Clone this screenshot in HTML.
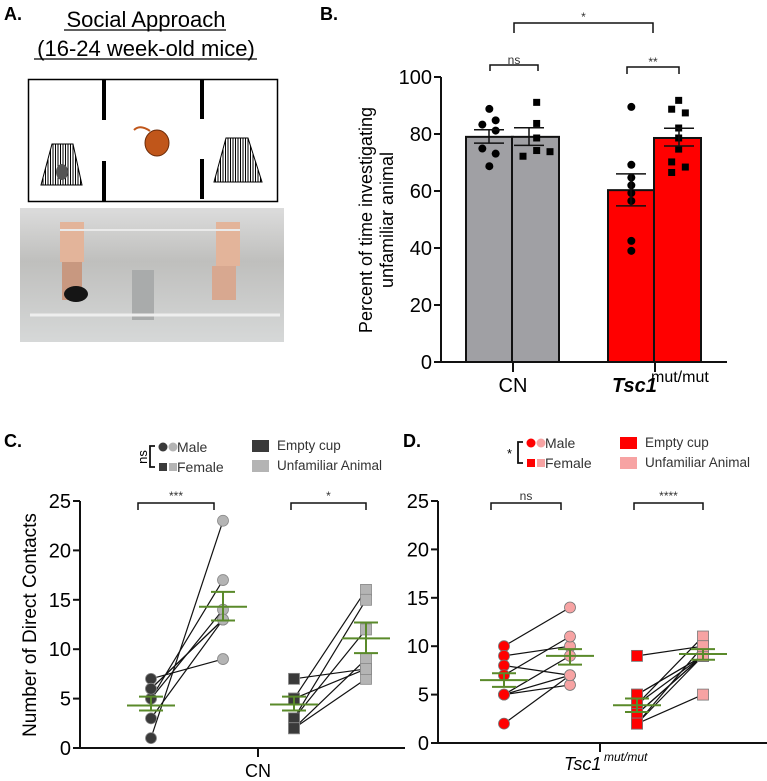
<!DOCTYPE html>
<html><head><meta charset="utf-8">
<style>
html,body{margin:0;padding:0;background:#fff;}
svg{display:block;font-family:"Liberation Sans",Arial,sans-serif;}
</style></head>
<body>
<svg id="fig" width="767" height="781" viewBox="0 0 767 781" xmlns="http://www.w3.org/2000/svg">
  <g>
    <text x="4" y="20" font-size="18" font-weight="bold">A.</text>
    <text x="146" y="27" font-size="22" text-anchor="middle">Social Approach</text>
    <line x1="64" y1="30" x2="226" y2="30" stroke="#000" stroke-width="1.2"/>
    <text x="146" y="56" font-size="22" text-anchor="middle">(16-24 week-old mice)</text>
    <line x1="34" y1="59" x2="257" y2="59" stroke="#000" stroke-width="1.2"/>
    <g>
      <rect x="28.5" y="79.5" width="249" height="122" fill="#fff" stroke="#000" stroke-width="1.5"/>
      <rect x="102" y="80" width="4" height="40" fill="#000"/>
      <rect x="102" y="161" width="4" height="40" fill="#000"/>
      <rect x="200" y="79" width="4" height="40" fill="#000"/>
      <rect x="200" y="159" width="4" height="40" fill="#000"/>
      <defs><pattern id="stripes" width="2.5" height="4" patternUnits="userSpaceOnUse"><rect width="1" height="4" fill="#000"/></pattern></defs>
      <polygon points="52,144 73,144 82,185 41,185" fill="url(#stripes)" stroke="#000" stroke-width="1"/>
      <polygon points="226,138 248,138 262,182 214,182" fill="url(#stripes)" stroke="#000" stroke-width="1"/>
      <ellipse cx="62" cy="172" rx="6" ry="8" fill="#555"/>
      <ellipse cx="157" cy="143" rx="12" ry="13" fill="#c0561a" stroke="#6a2a08" stroke-width="1"/>
      <path d="M150 131 Q140 124 134 130" stroke="#c0561a" stroke-width="2" fill="none"/>
    </g>
    <g>
      <defs><linearGradient id="ph" x1="0" y1="0" x2="0" y2="1"><stop offset="0" stop-color="#dcdcdc"/><stop offset="0.4" stop-color="#bfbfbd"/><stop offset="1" stop-color="#d6d8d8"/></linearGradient></defs>
      <rect x="20" y="208" width="264" height="134" fill="url(#ph)"/>
      <rect x="60" y="222" width="24" height="40" fill="#e3b49a"/>
      <rect x="62" y="262" width="20" height="38" fill="#c89880"/>
      <rect x="216" y="222" width="24" height="44" fill="#e3b49a"/>
      <rect x="212" y="266" width="24" height="34" fill="#d8a890"/>
      <ellipse cx="76" cy="294" rx="12" ry="8" fill="#151515"/>
      <rect x="132" y="270" width="22" height="50" fill="#a9abab"/>
      <line x1="30" y1="315" x2="280" y2="315" stroke="#eee" stroke-width="3"/>
      <line x1="60" y1="230" x2="240" y2="230" stroke="#eaeaea" stroke-width="2"/>
    </g>
  </g>
  <text x="320" y="20" font-size="18" font-weight="bold">B.</text>
  <text x="4" y="447" font-size="18" font-weight="bold">C.</text>
  <text x="403" y="447" font-size="18" font-weight="bold">D.</text>
  <g id="pb"></g>
  <g id="pc"></g>
  <g id="pd"></g>
</svg>
<script>
// ---- Panel B data ----
const bGroups = ["CN", "Tsc1"];
const bMeans = [79, 79, 60.3, 78.6];
const bErrLo = [76.8, 76, 54.8, 75.8];
const bErrHi = [81.5, 82.2, 66, 82];
const bTicks = [0, 20, 40, 60, 80, 100];
const bCnMale = [88.8, 84.8, 83.3, 81.2, 74.9, 73.1, 68.7];
const bCnFemale = [91.1, 83.7, 78.6, 72.2, 74.2, 73.8];
const bMutMale = [89.5, 69.2, 64.7, 62, 59.3, 56.5, 42.5, 39];
const bMutFemale = [91.8, 88.7, 87.4, 82.1, 78.6, 74.7, 70.2, 68.4, 66.5];

// ---- Panel C data ----
const cTicks = [0, 5, 10, 15, 20, 25];
const cMaleEmpty = [7, 6, 5, 5, 3, 1, 6];
const cMaleUnf = [9, 13, 17, 14, 13, 23, 13];
const cFemEmpty = [7, 5, 3, 3, 2, 2, 5];
const cFemUnf = [8, 16, 15, 12, 9, 7, 8];
const cMeans = [4.3, 14.3, 4.4, 11.1];
const cErrLo = [3.8, 12.9, 3.8, 9.6];
const cErrHi = [5.2, 15.8, 5.2, 12.7];
const cSig = ["***", "*"];

// ---- Panel D data ----
const dTicks = [0, 5, 10, 15, 20, 25];
const dMaleEmpty = [10, 9, 8, 7, 5, 5, 5, 2];
const dMaleUnf = [14, 10, 7, 11, 9, 7, 6, 7];
const dFemEmpty = [9, 5, 5, 4, 4, 3, 3, 2, 2, 2];
const dFemUnf = [10, 9, 9, 9, 11, 9, 9, 9, 5, 10];
const dMeans = [6.5, 9.0, 3.9, 9.2];
const dErrLo = [5.8, 8.1, 3.2, 8.6];
const dErrHi = [7.2, 9.7, 4.6, 9.7];
const dSig = ["ns", "****"];

const NS = "http://www.w3.org/2000/svg";
function mk(parent, tag, attrs, txt) {
  const e = document.createElementNS(NS, tag);
  for (const k in attrs) e.setAttribute(k, attrs[k]);
  if (txt !== undefined) e.textContent = txt;
  parent.appendChild(e);
  return e;
}

// ===== Panel B =====
(function () {
  const g = document.getElementById("pb");
  const y0 = 362, yTop = 77, ax = 441;
  const y = v => y0 - (v / 100) * (y0 - yTop);
  const barX = [466, 512, 608, 654], bw = 47;
  const fills = ["#a0a0a4", "#a0a0a4", "#ff0000", "#ff0000"];
  for (let i = 0; i < 4; i++) {
    const r = mk(g, "rect", { x: barX[i], y: y(bMeans[i]), width: bw, height: y0 - y(bMeans[i]), fill: fills[i], stroke: "#111", "stroke-width": 2 });
    
    
  }
  function dots(vals, xs, shape) {
    vals.forEach((v, k) => {
      const x = 360 + xs[k % xs.length] / 3;
      let e;
      if (shape === "c") e = mk(g, "circle", { cx: x, cy: y(v), r: 4, fill: "#000" });
      else e = mk(g, "rect", { x: x - 3.5, y: y(v) - 3.5, width: 7, height: 7, fill: "#000" });
      
      
    });
  }
  dots(bCnMale, [388, 407, 367, 407, 367, 407, 388], "c");
  dots(bCnFemale, [530, 530, 530, 489, 530, 570], "s");
  dots(bMutMale, [814], "c");
  dots(bMutFemale, [956, 935, 976, 956, 956, 956, 935, 976, 935], "s");
  const ecx = [489, 529, 631, 679];
  for (let i = 0; i < 4; i++) {
    const e = mk(g, "path", { d: `M${ecx[i]} ${y(bErrLo[i])}V${y(bErrHi[i])}M${ecx[i]-15} ${y(bErrLo[i])}h30M${ecx[i]-15} ${y(bErrHi[i])}h30`, stroke: "#111", "stroke-width": 1.5, fill: "none" });
    
    
  }
  mk(g, "line", { x1: ax, y1: yTop, x2: ax, y2: y0, stroke: "#111", "stroke-width": 2 });
  mk(g, "line", { x1: ax, y1: y0, x2: 727, y2: y0, stroke: "#111", "stroke-width": 2 });
  bTicks.forEach(t => {
    mk(g, "line", { x1: ax - 7, y1: y(t), x2: ax, y2: y(t), stroke: "#111", "stroke-width": 2 });
    const tx = mk(g, "text", { x: ax - 9, y: y(t) + 7, "font-size": 20, "text-anchor": "end" }, t);
    
    
  });
  mk(g, "line", { x1: 513, y1: y0, x2: 513, y2: y0 + 10, stroke: "#111", "stroke-width": 2 });
  mk(g, "line", { x1: 655, y1: y0, x2: 655, y2: y0 + 10, stroke: "#111", "stroke-width": 2 });
  const l1 = mk(g, "text", { x: 513, y: 392, "font-size": 20, "text-anchor": "middle" }, bGroups[0]);
  
  
  const l2 = mk(g, "text", { x: 612, y: 392, "font-size": 20, "font-weight": "bold", "font-style": "italic" }, bGroups[1]);
  
  
  mk(g, "text", { x: 651, y: 382, "font-size": 16 }, "mut/mut");
  const yl = mk(g, "text", { transform: "translate(372,220) rotate(-90)", "font-size": 18, "text-anchor": "middle" }, "Percent of time investigating");
  
  
  mk(g, "text", { transform: "translate(393,220) rotate(-90)", "font-size": 18, "text-anchor": "middle" }, "unfamiliar animal");
  const br = [[514, 653, 23, 33, "*", 17], [490, 538, 65, 71, "ns", 60], [627, 679, 67, 74, "**", 62]];
  br.forEach(b => {
    mk(g, "path", { d: `M${b[0]} ${b[3]}V${b[2]}H${b[1]}V${b[3]}`, stroke: "#111", "stroke-width": 1.5, fill: "none" });
    const t = mk(g, "text", { x: (b[0] + b[1]) / 2, y: b[5] + 4, "font-size": 12, "text-anchor": "middle", fill: "#333" }, b[4]);
    
    
  });
})();

// ===== Panels C & D =====
function pairPanel(id, cfg) {
  const g = document.getElementById(id);
  const y = v => cfg.y0 - (v / 25) * (cfg.y0 - cfg.yTop);
  const xs = cfg.xs;
  function drawGroup(empt, unf, x1, x2, shape, c1, c2, stroke) {
    empt.forEach((v, k) => {
      const ln = mk(g, "line", { x1: x1, y1: y(v), x2: x2, y2: y(unf[k]), stroke: "#111", "stroke-width": 1.2 });
      
      
    });
    [[empt, x1, c1], [unf, x2, c2]].forEach(([arr, x, c]) => {
      arr.forEach(v => {
        let e;
        if (shape === "c") e = mk(g, "circle", { cx: x, cy: y(v), r: 5.5, fill: c, stroke: stroke, "stroke-width": 0.8 });
        else e = mk(g, "rect", { x: x - 5.5, y: y(v) - 5.5, width: 11, height: 11, fill: c, stroke: stroke, "stroke-width": 0.8 });
        
        
      });
    });
  }
  drawGroup(cfg.me, cfg.mu, xs[0], xs[1], "c", cfg.c1, cfg.c2, cfg.pstroke);
  drawGroup(cfg.fe, cfg.fu, xs[2], xs[3], "s", cfg.c1, cfg.c2, cfg.pstroke);
  for (let i = 0; i < 4; i++) {
    const x = xs[i];
    const e = mk(g, "path", { d: `M${x - 24} ${y(cfg.means[i])}h48M${x} ${y(cfg.lo[i])}V${y(cfg.hi[i])}M${x - 12} ${y(cfg.lo[i])}h24M${x - 12} ${y(cfg.hi[i])}h24`, stroke: "#5a8a2a", "stroke-width": 2, fill: "none" });
    
    
  }
  mk(g, "line", { x1: cfg.ax, y1: cfg.yTop, x2: cfg.ax, y2: cfg.y0, stroke: "#111", "stroke-width": 2 });
  mk(g, "line", { x1: cfg.ax, y1: cfg.y0, x2: cfg.axEnd, y2: cfg.y0, stroke: "#111", "stroke-width": 2 });
  cfg.ticks.forEach(t => {
    mk(g, "line", { x1: cfg.ax - 7, y1: y(t), x2: cfg.ax, y2: y(t), stroke: "#111", "stroke-width": 2 });
    const tx = mk(g, "text", { x: cfg.ax - 9, y: y(t) + 7, "font-size": 20, "text-anchor": "end" }, t);
    
    
  });
  mk(g, "line", { x1: cfg.tickX, y1: cfg.y0, x2: cfg.tickX, y2: cfg.y0 + 9, stroke: "#111", "stroke-width": 2 });
  [[xs[0] - 13, xs[1] - 9, cfg.sig[0]], [xs[2] - 3, xs[3], cfg.sig[1]]].forEach(b => {
    mk(g, "path", { d: `M${b[0]} 510V503H${b[1]}V510`, stroke: "#111", "stroke-width": 1.5, fill: "none" });
    const t = mk(g, "text", { x: (b[0] + b[1]) / 2, y: 500, "font-size": 12, "text-anchor": "middle", fill: "#333" }, b[2]);
    
    
  });
  const L = cfg.leg;
  const lg = mk(g, "g", {});
  
  
  mk(lg, "path", { d: `M${L.bx + 5} ${L.by}H${L.bx}V${L.by + 21}H${L.bx + 5}`, stroke: "#111", "stroke-width": 1.8, fill: "none" });
  mk(lg, "text", L.sigRot ? { transform: `translate(${L.bx - 3},${L.by + 11}) rotate(-90)`, "font-size": 13, "text-anchor": "middle" } : { x: L.bx - 6, y: L.by + 16, "font-size": 13, "text-anchor": "end" }, L.sig);
  mk(lg, "circle", { cx: L.bx + 13, cy: L.by + 1, r: 4.5, fill: cfg.c1 });
  mk(lg, "circle", { cx: L.bx + 23, cy: L.by + 1, r: 4.5, fill: cfg.c2 });
  mk(lg, "text", { x: L.bx + 27, y: L.by + 6, "font-size": 14, fill: "#333" }, "Male");
  mk(lg, "rect", { x: L.bx + 9, y: L.by + 17, width: 8, height: 8, fill: cfg.c1 });
  mk(lg, "rect", { x: L.bx + 19, y: L.by + 17, width: 8, height: 8, fill: cfg.c2 });
  mk(lg, "text", { x: L.bx + 27, y: L.by + 26, "font-size": 14, fill: "#333" }, "Female");
  mk(lg, "rect", { x: L.kx, y: L.ky, width: 17, height: 12, fill: cfg.c1 });
  mk(lg, "text", { x: L.kx + 25, y: L.ky + 10, "font-size": 13.5, fill: "#333" }, "Empty cup");
  mk(lg, "rect", { x: L.kx, y: L.ky + 20, width: 17, height: 12, fill: cfg.c2 });
  mk(lg, "text", { x: L.kx + 25, y: L.ky + 30, "font-size": 13.5, fill: "#333" }, "Unfamiliar Animal");
  return g;
}

const gc = pairPanel("pc", {
  y0: 748, yTop: 501, ax: 80, axEnd: 405, tickX: 258, xs: [151, 223, 294, 366], ticks: cTicks,
  me: cMaleEmpty, mu: cMaleUnf, fe: cFemEmpty, fu: cFemUnf, means: cMeans, lo: cErrLo, hi: cErrHi, sig: cSig,
  c1: "#3a3a3a", c2: "#b4b4b4", pstroke: "#888",
  leg: { bx: 150, by: 446, sig: "ns", sigRot: true, kx: 252, ky: 440 }
});
const cnl = mk(gc, "text", { x: 258, y: 777, "font-size": 18, "text-anchor": "middle" }, "CN");


const cyl = mk(gc, "text", { transform: "translate(36,625) rotate(-90)", "font-size": 19, "text-anchor": "middle" }, "Number of Direct Contacts");



const gd = pairPanel("pd", {
  y0: 743, yTop: 501, ax: 438, axEnd: 767, tickX: 600, xs: [504, 570, 637, 703], ticks: dTicks,
  me: dMaleEmpty, mu: dMaleUnf, fe: dFemEmpty, fu: dFemUnf, means: dMeans, lo: dErrLo, hi: dErrHi, sig: dSig,
  c1: "#ff0000", c2: "#f7a3a3", pstroke: "#777",
  leg: { bx: 518, by: 442, sig: "*", sigRot: false, kx: 620, ky: 437 }
});
const dxl = mk(gd, "text", { x: 564, y: 770, "font-size": 18, "font-style": "italic" }, "Tsc1");


mk(gd, "text", { x: 604, y: 761, "font-size": 12, "font-style": "italic" }, "mut/mut");
</script>
</body></html>
